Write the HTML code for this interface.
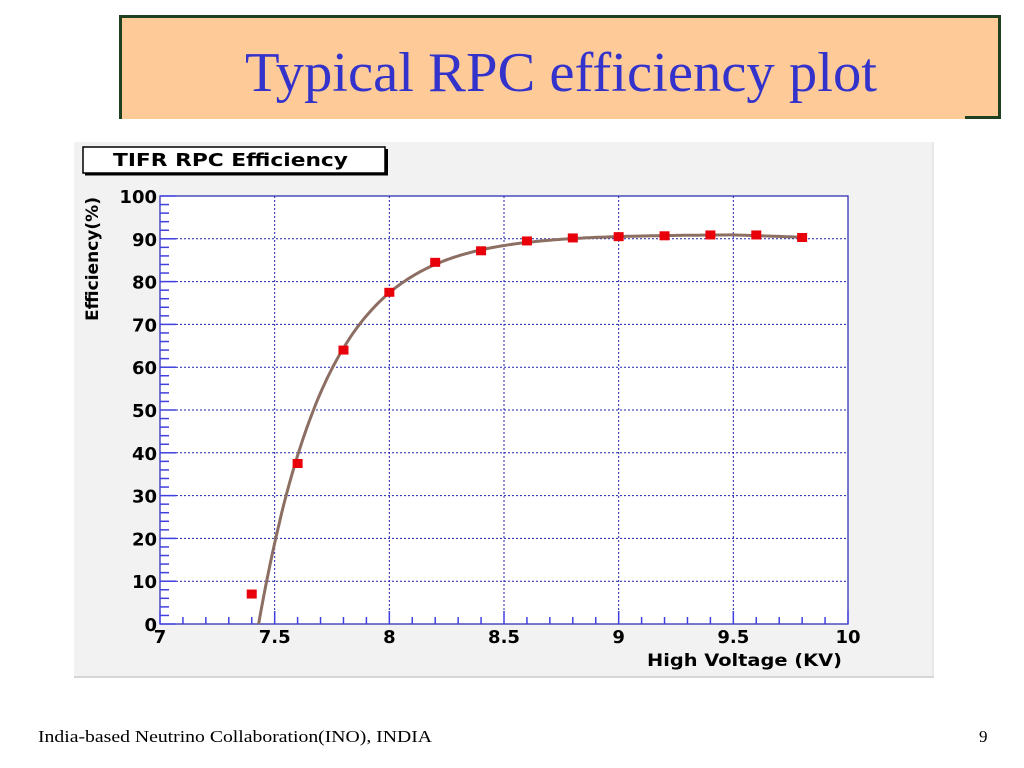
<!DOCTYPE html>
<html><head><style>
body{margin:0;width:1024px;height:768px;background:#fff;position:relative;overflow:hidden;font-family:"Liberation Serif",serif}
#tb{position:absolute;left:119px;top:15px;width:876px;height:101px;background:#fecb98;border:3px solid #1f401f;border-bottom:none}
#tb2{position:absolute;left:965px;top:116px;width:33px;height:3px;background:#1f401f}
</style></head><body>
<div id="tb"></div><div id="tb2"></div>
<svg style="position:absolute;left:0;top:0" width="1024" height="768" id="s" font-family="DejaVu Sans, sans-serif" font-weight="bold">
<text x="245" y="91" font-family="Liberation Serif, serif" font-weight="normal" font-size="56" fill="#3333cc" textLength="632" lengthAdjust="spacingAndGlyphs">Typical RPC efficiency plot</text>
<text x="38" y="742" font-family="Liberation Serif, serif" font-weight="normal" font-size="17" textLength="394" lengthAdjust="spacingAndGlyphs">India-based Neutrino Collaboration(INO), INDIA</text>
<text x="979" y="742" font-family="Liberation Serif, serif" font-weight="normal" font-size="17">9</text>
<rect x="74" y="142" width="860" height="536" fill="#f2f2f2"/>
<line x1="74" y1="677" x2="934" y2="677" stroke="#bbb"/>
<line x1="933" y1="142" x2="933" y2="677" stroke="#ddd"/>
<rect x="83" y="147" width="302" height="26" fill="#fff" stroke="#000" stroke-width="1.5"/>
<rect x="385" y="149" width="3" height="26" fill="#000"/><rect x="85" y="173" width="303" height="2.5" fill="#000"/>
<text x="113" y="166" font-size="18" textLength="235" lengthAdjust="spacingAndGlyphs">TIFR RPC Efficiency</text>
<rect x="160" y="196" width="688" height="428" fill="#fff"/>
<g id="g"></g>
<text x="647" y="666" font-size="17" textLength="195" lengthAdjust="spacingAndGlyphs">High Voltage (KV)</text>
<text transform="translate(98,321) rotate(-90)" font-size="17" textLength="124" lengthAdjust="spacingAndGlyphs">Efficiency(%)</text>
</svg>
<script>
var g=document.getElementById('g'),h='';
function X(v){return 160+(v-7)*688/3}function Y(v){return 624-v*4.28}
for(var i=1;i<6;i++){var x=X(7+i*0.5);h+='<line x1="'+x+'" y1="196" x2="'+x+'" y2="624" stroke="#2020b0" stroke-dasharray="2,2" stroke-width="1"/>';}
for(var i=1;i<10;i++){var y=Y(i*10);h+='<line x1="160" y1="'+y+'" x2="848" y2="'+y+'" stroke="#2020b0" stroke-dasharray="2,2" stroke-width="1"/>';}
h+='<rect x="160" y="196" width="688" height="428" fill="none" stroke="#2020b0" stroke-width="1.2"/>';
for(var i=0;i<=30;i++){var x=X(7+i*0.1),l=i%5?7:13;h+='<line x1="'+x+'" y1="624" x2="'+x+'" y2="'+(624-l)+'" stroke="#4040e0" stroke-width="1.5"/>';}
for(var i=0;i<=50;i++){var y=Y(i*2),l=i%5?9:16;h+='<line x1="160" y1="'+y+'" x2="'+(160+l)+'" y2="'+y+'" stroke="#4040e0" stroke-width="1.5"/>';}
var xl=['7','7.5','8','8.5','9','9.5','10'];for(var i=0;i<7;i++)h+='<text x="'+X(7+i*0.5)+'" y="643" font-size="18" text-anchor="middle">'+xl[i]+'</text>';
for(var i=0;i<=10;i++)h+='<text x="157" y="'+(Y(i*10)+7)+'" font-size="18" text-anchor="end">'+(i*10)+'</text>';
var p='';for(var v=7.43;v<=9.8;v+=0.01){var e=91*(1-Math.exp(-(v-7.43)/0.3));if(v>9.5)e-=(v-9.5)*2;p+=(p?'L':'M')+X(v).toFixed(1)+','+Y(Math.max(e,0)).toFixed(1);}
h+='<path d="'+p+'" fill="none" stroke="#8c6e62" stroke-width="3"/>';
var d=[[7.4,7],[7.6,37.5],[7.8,64],[8,77.5],[8.2,84.5],[8.4,87.2],[8.6,89.5],[8.8,90.2],[9,90.5],[9.2,90.7],[9.4,90.9],[9.6,90.9],[9.8,90.3]];
d.forEach(function(q){h+='<rect x="'+(X(q[0])-5)+'" y="'+(Y(q[1])-4.5)+'" width="10" height="9" fill="#e8000b"/>';});
g.innerHTML=h;
</script>
</body></html>
